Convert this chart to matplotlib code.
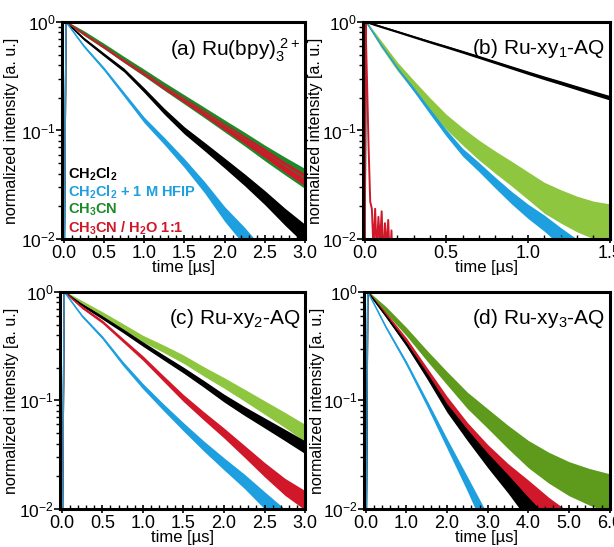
import numpy as np
import matplotlib
matplotlib.use("Agg")
import matplotlib.pyplot as plt
from matplotlib.ticker import LogLocator, MultipleLocator, NullFormatter

plt.rcParams['font.family'] = ['Liberation Sans', 'DejaVu Sans']
plt.rcParams['mathtext.fontset'] = 'custom'
plt.rcParams['mathtext.rm'] = 'Liberation Sans'
plt.rcParams['mathtext.it'] = 'Liberation Sans:italic'
plt.rcParams['mathtext.bf'] = 'Liberation Sans:bold'

BLACK = '#000000'
BLUE = '#1e9fe0'
GREEN_A = '#1d8a2a'
GREEN_L = '#8fc640'
GREEN_D = '#5e9a1c'
RED = '#d0182a'

# ---- data (time in us, normalized intensity) ----
# panel (a) Ru(bpy)3 2+
t_a = [0, 0.03, 0.25, 0.5, 0.75, 1.0, 1.25, 1.5, 1.75, 2.0, 2.25, 2.5, 2.75, 3.0]
a_black = [0.001, 1.0, 0.70, 0.50, 0.36, 0.235, 0.15, 0.10, 0.071, 0.05, 0.035, 0.024, 0.016, 0.011]
a_blue = [0.001, 1.0, 0.60, 0.37, 0.215, 0.125, 0.08, 0.05, 0.030, 0.017, 0.0105, 0.006, 0.004, 0.003]
a_green = [0.001, 1.0, 0.79, 0.60, 0.45, 0.34, 0.255, 0.193, 0.146, 0.11, 0.083, 0.062, 0.047, 0.036]
a_red = [0.001, 1.0, 0.78, 0.59, 0.44, 0.335, 0.25, 0.19, 0.144, 0.108, 0.082, 0.062, 0.046, 0.035]

# panel (b) Ru-xy1-AQ
t_b = [0, 0.01, 0.1, 0.2, 0.3, 0.4, 0.5, 0.6, 0.7, 0.8, 0.9, 1.0, 1.1, 1.2, 1.3, 1.4, 1.5]
b_black = [0.001, 1.0, 0.906, 0.814, 0.73, 0.655, 0.59, 0.53, 0.475, 0.425, 0.38, 0.34, 0.305, 0.275, 0.247, 0.222, 0.20]
b_blue = [0.001, 1.0, 0.62, 0.38, 0.24, 0.15, 0.095, 0.063, 0.046, 0.033, 0.024, 0.018, 0.014, 0.0105, 0.008, 0.006, 0.005]
b_green = [0.001, 1.0, 0.63, 0.39, 0.26, 0.175, 0.12, 0.088, 0.066, 0.051, 0.04, 0.031, 0.024, 0.02, 0.017, 0.015, 0.014]
t_b_red = [0, 0.006, 0.015, 0.025, 0.035, 0.045, 0.055, 0.065, 0.075, 0.085, 0.095,
           0.105, 0.115, 0.125, 0.135, 0.145, 0.155, 0.165, 0.175]
b_red = [0.001, 1.0, 0.30, 0.07, 0.022, 0.019, 0.008, 0.019, 0.007, 0.016, 0.009,
         0.018, 0.006, 0.014, 0.008, 0.015, 0.006, 0.012, 0.004]

# panel (c) Ru-xy2-AQ
t_c = [0, 0.03, 0.25, 0.5, 0.75, 1.0, 1.25, 1.5, 1.75, 2.0, 2.25, 2.5, 2.75, 3.0]
c_black = [0.001, 1.0, 0.76, 0.58, 0.44, 0.33, 0.25, 0.19, 0.142, 0.105, 0.08, 0.062, 0.048, 0.037]
c_blue = [0.001, 1.0, 0.60, 0.38, 0.22, 0.135, 0.087, 0.057, 0.038, 0.026, 0.018, 0.012, 0.008, 0.006]
c_green = [0.001, 1.0, 0.79, 0.62, 0.48, 0.37, 0.30, 0.24, 0.185, 0.145, 0.112, 0.086, 0.066, 0.05]
c_red = [0.001, 1.0, 0.72, 0.53, 0.36, 0.245, 0.16, 0.105, 0.072, 0.05, 0.034, 0.023, 0.016, 0.012]

# panel (d) Ru-xy3-AQ
t_d = [0, 0.05, 0.5, 1.0, 1.5, 2.0, 2.5, 3.0, 3.5, 4.0, 4.5, 5.0, 5.5, 6.0]
d_black = [0.001, 1.0, 0.60, 0.33, 0.17, 0.085, 0.048, 0.028, 0.017, 0.010, 0.006, 0.004, 0.003, 0.002]
d_blue = [0.001, 1.0, 0.47, 0.22, 0.095, 0.04, 0.017, 0.007, 0.003, 0.002, 0.001, 0.001, 0.001, 0.001]
d_green = [0.001, 1.0, 0.68, 0.43, 0.26, 0.16, 0.10, 0.068, 0.046, 0.032, 0.024, 0.019, 0.016, 0.014]
d_red = [0.001, 1.0, 0.62, 0.36, 0.19, 0.10, 0.056, 0.034, 0.022, 0.015, 0.010, 0.007, 0.005, 0.004]

legend_labels = [r'CH$_\mathbf{2}$Cl$_\mathbf{2}$', r'CH$_\mathbf{2}$Cl$_\mathbf{2}$ + 1 M HFIP',
                 r'CH$_\mathbf{3}$CN', r'CH$_\mathbf{3}$CN / H$_\mathbf{2}$O 1:1']
legend_colors = [BLACK, BLUE, GREEN_A, RED]


def trace(ax, t, y, color, noise, lw=1.0):
    # noisy trace drawn as a band, wider where the signal is weak
    t = np.asarray(t)
    y = np.asarray(y)
    r = noise * np.sqrt(0.01 / y)
    r[:2] = 0.02
    ax.fill_between(t, y / (1 + r), y * (1 + r), color=color, lw=0)
    ax.plot(t, y, color=color, lw=lw)


def style(ax, xmax, xmajor, xminor, title, ylab_x):
    ax.set_yscale('log')
    ax.set_ylim(0.01, 1.0)
    ax.set_xlim(-0.02 * xmax / 3.0, xmax)
    ax.xaxis.set_major_locator(MultipleLocator(xmajor))
    ax.xaxis.set_minor_locator(MultipleLocator(xminor))
    ax.xaxis.set_major_formatter(plt.FuncFormatter(lambda v, p: '%.1f' % v))
    ax.yaxis.set_minor_locator(LogLocator(base=10, subs=np.arange(2, 10)))
    ax.yaxis.set_minor_formatter(NullFormatter())
    ax.tick_params(axis='x', which='major', direction='inout', length=6, width=1.2, labelsize=13, pad=1)
    ax.tick_params(axis='x', which='minor', direction='in', length=3, width=1.0)
    ax.tick_params(axis='y', which='major', direction='out', length=4, width=1.2, labelsize=12.5, pad=0.5)
    ax.tick_params(axis='y', which='minor', direction='out', length=3, width=1.0)
    for s in ax.spines.values():
        s.set_linewidth(2.2)
    ax.set_xlabel('time [\u00b5s]', fontsize=12, labelpad=-1)
    ax.set_ylabel('normalized intensity [a. u.]', fontsize=11.5)
    ax.yaxis.set_label_coords(ylab_x, 0.5)
    ax.text(0.98, 0.93, title, transform=ax.transAxes, ha='right', va='top', fontsize=15)


fig = plt.figure(figsize=(6.14, 5.47), dpi=100)
ax_a = fig.add_axes([0.101, 0.563, 0.396, 0.397])
ax_b = fig.add_axes([0.591, 0.563, 0.402, 0.397])
ax_c = fig.add_axes([0.098, 0.0695, 0.399, 0.397])
ax_d = fig.add_axes([0.593, 0.0695, 0.400, 0.397])

# (a)
trace(ax_a, t_a, a_black, BLACK, 0.25)
trace(ax_a, t_a, a_green, GREEN_A, 0.45)
trace(ax_a, t_a, a_red, RED, 0.25)
trace(ax_a, t_a, a_blue, BLUE, 0.22)
style(ax_a, 3.0, 0.5, 0.1, '(a) Ru(bpy)$_3^{\\ 2+}$', -0.175)
for i, (lab, col) in enumerate(zip(legend_labels, legend_colors)):
    ax_a.text(0.025, 0.30 - i * 0.083, lab, color=col, fontsize=10.5, fontweight='bold',
              transform=ax_a.transAxes, va='center', ha='left')

# (b)
trace(ax_b, t_b, b_black, BLACK, 0.22)
trace(ax_b, t_b, b_green, GREEN_L, 0.6)
trace(ax_b, t_b, b_blue, BLUE, 0.22)
ax_b.plot(t_b_red, b_red, color=RED, lw=1.4)
style(ax_b, 1.5, 0.5, 0.1, '(b) Ru-xy$_1$-AQ', -0.16)
ax_b.set_xlim(-0.01, 1.5)

# (c)
trace(ax_c, t_c, c_green, GREEN_L, 0.45)
trace(ax_c, t_c, c_black, BLACK, 0.28)
trace(ax_c, t_c, c_red, RED, 0.25)
trace(ax_c, t_c, c_blue, BLUE, 0.22)
style(ax_c, 3.0, 0.5, 0.1, '(c) Ru-xy$_2$-AQ', -0.17)

# (d)
trace(ax_d, t_d, d_green, GREEN_D, 0.6)
trace(ax_d, t_d, d_red, RED, 0.28)
trace(ax_d, t_d, d_black, BLACK, 0.28)
trace(ax_d, t_d, d_blue, BLUE, 0.22)
style(ax_d, 6.0, 1.0, 0.2, '(d) Ru-xy$_3$-AQ', -0.16)
ax_d.set_xlim(-0.04, 6.0)

fig.savefig('out.png', dpi=100)
